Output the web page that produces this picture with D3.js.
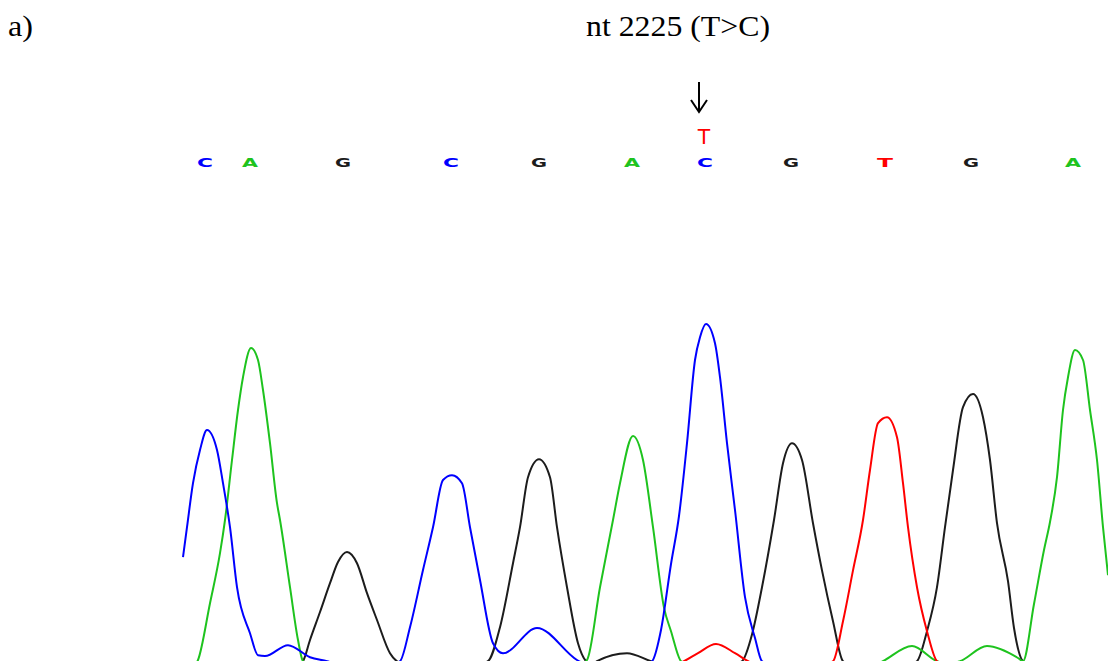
<!DOCTYPE html>
<html>
<head>
<meta charset="utf-8">
<script src="https://cdnjs.cloudflare.com/ajax/libs/d3/7.8.5/d3.min.js"></script>
<style>
body { margin: 0; background: #fff; }
</style>
</head>
<body>
<div class="chart"></div>
<script>

// trace values: [scan, signal]
var traceC = [[0,307],[4,382],[10,492],[17,575],[24,625],[34,575],[40,492],[47,382],[54,232],[67,117],[75,62],[82,60],
  [105,87],[127,57],[144,47],[182,15],[217,47],[227,132],[240,275],[250,382],[260,500],[269,512],[279,492],[287,382],
  [297,250],[310,92],[320,67],[354,130],[394,50],[432,15],[469,47],[478,125],[488,290],[496,410],[504,592],[512,800],
  [517,857],[523,890],[532,842],[537,757],[544,592],[552,425],[562,207],[572,105],[579,47],[620,10],[925,10]];

var traceA = [[0,5],[15,50],[27,192],[37,317],[42,400],[49,550],[55,675],[60,757],[68,830],[75,800],[80,725],[87,592],
  [94,442],[97,400],[107,232],[115,100],[120,47],[150,10],[380,10],[404,50],[417,232],[430,400],[437,492],[450,610],
  [460,550],[470,382],[481,181],[488,122],[498,47],[530,10],[670,10],[700,47],[729,85],[754,47],[765,40],[777,47],
  [804,85],[835,55],[840,47],[851,190],[861,325],[867,395],[874,507],[880,675],[885,757],[892,825],[900,800],[907,675],
  [914,550],[920,382],[925,262]];

var traceG = [[0,5],[100,10],[120,47],[127,100],[137,170],[147,242],[155,295],[164,320],[174,292],[184,217],[194,150],
  [207,67],[214,47],[257,10],[305,47],[317,132],[330,292],[337,382],[345,507],[356,552],[367,507],[374,382],[384,232],
  [395,92],[403,47],[409,38],[414,47],[444,67],[468,47],[517,10],[559,47],[569,114],[579,232],[591,400],[600,542],
  [609,592],[619,550],[630,392],[639,274],[650,147],[660,47],[695,10],[734,47],[744,122],[754,232],[762,382],[770,525],
  [780,682],[790,715],[800,657],[807,550],[814,392],[825,247],[831,130],[840,47],[880,10],[925,10]];

var traceT = [[0,5],[450,10],[501,47],[515,67],[533,90],[552,67],[565,47],[607,10],[650,47],[660,147],[670,274],
  [680,400],[687,525],[695,642],[704,657],[714,607],[720,492],[725,382],[734,232],[744,122],[754,47],[790,10],[925,5]];

var baseCalls = ["C","A","G","C","G","A","C","G","T","G","A"];
var basePos = [22, 67, 160, 268, 356, 449, 522, 608, 702, 788, 890];

var variantIndex = 6;
var variantBase = "T";
var panelLabel = "a)";
var titleText = "nt 2225 (T>C)";

var scanRange = [0, 925];
var signalRange = [0, 1000];

var baseColors = {A: "#1ec31e", C: "#0000ff", G: "#1c1c1c", T: "#ff0000"};

var width = 1108;
var height = 661;

var svg = d3.select('.chart').append('svg').attr('width', width).attr('height', height)
    .style('display', 'block');

var x = d3.scaleLinear().domain(scanRange).range([183, 1108]);
var y = d3.scaleLinear().domain(signalRange).range([680, 280]);

var traces = [
  {base: "G", values: traceG},
  {base: "A", values: traceA},
  {base: "T", values: traceT},
  {base: "C", values: traceC}
];

var line = d3.line()
    .x(function(d) { return x(d[0]); })
    .y(function(d) { return y(d[1]); })
    .curve(d3.curveMonotoneX);

svg.append('g').attr('class', 'traces')
  .selectAll('path')
  .data(traces).enter().append('path')
    .attr('d', function(d) { return line(d.values); })
    .attr('fill', 'none')
    .attr('stroke', function(d) { return baseColors[d.base]; })
    .attr('stroke-width', 2)
    .attr('stroke-linejoin', 'round');

// base calls
svg.append('g').attr('class', 'calls')
  .selectAll('text')
  .data(baseCalls).enter().append('text')
    .attr('x', function(d, i) { return x(basePos[i]) - 8; })
    .attr('y', 167)
    .attr('textLength', 16)
    .attr('lengthAdjust', 'spacingAndGlyphs')
    .attr('font-family', 'DejaVu Sans, sans-serif')
    .attr('font-weight', 'bold')
    .attr('font-size', '13px')
    .attr('fill', function(d) { return baseColors[d]; })
    .text(function(d) { return d; });

var vx = x(basePos[variantIndex]);

svg.append('text')
    .attr('x', vx - 1)
    .attr('y', 144)
    .attr('text-anchor', 'middle')
    .attr('font-family', 'Liberation Sans, Arial, sans-serif')
    .attr('font-size', '22px')
    .attr('fill', baseColors[variantBase])
    .text(variantBase);

svg.append('path')
    .attr('d', 'M' + (vx - 6) + ',82V112M' + (vx - 14) + ',100L' + (vx - 6) + ',112L' + (vx + 2) + ',100')
    .attr('fill', 'none')
    .attr('stroke', '#000')
    .attr('stroke-width', 2);

svg.append('text')
    .attr('x', 8)
    .attr('y', 36)
    .attr('textLength', 25)
    .attr('lengthAdjust', 'spacingAndGlyphs')
    .attr('font-family', 'Liberation Serif, Times New Roman, serif')
    .attr('font-size', '30px')
    .text(panelLabel);

svg.append('text')
    .attr('x', 586)
    .attr('y', 36)
    .attr('textLength', 184)
    .attr('lengthAdjust', 'spacingAndGlyphs')
    .attr('font-family', 'Liberation Serif, Times New Roman, serif')
    .attr('font-size', '30px')
    .text(titleText);

</script>
</body>
</html>
